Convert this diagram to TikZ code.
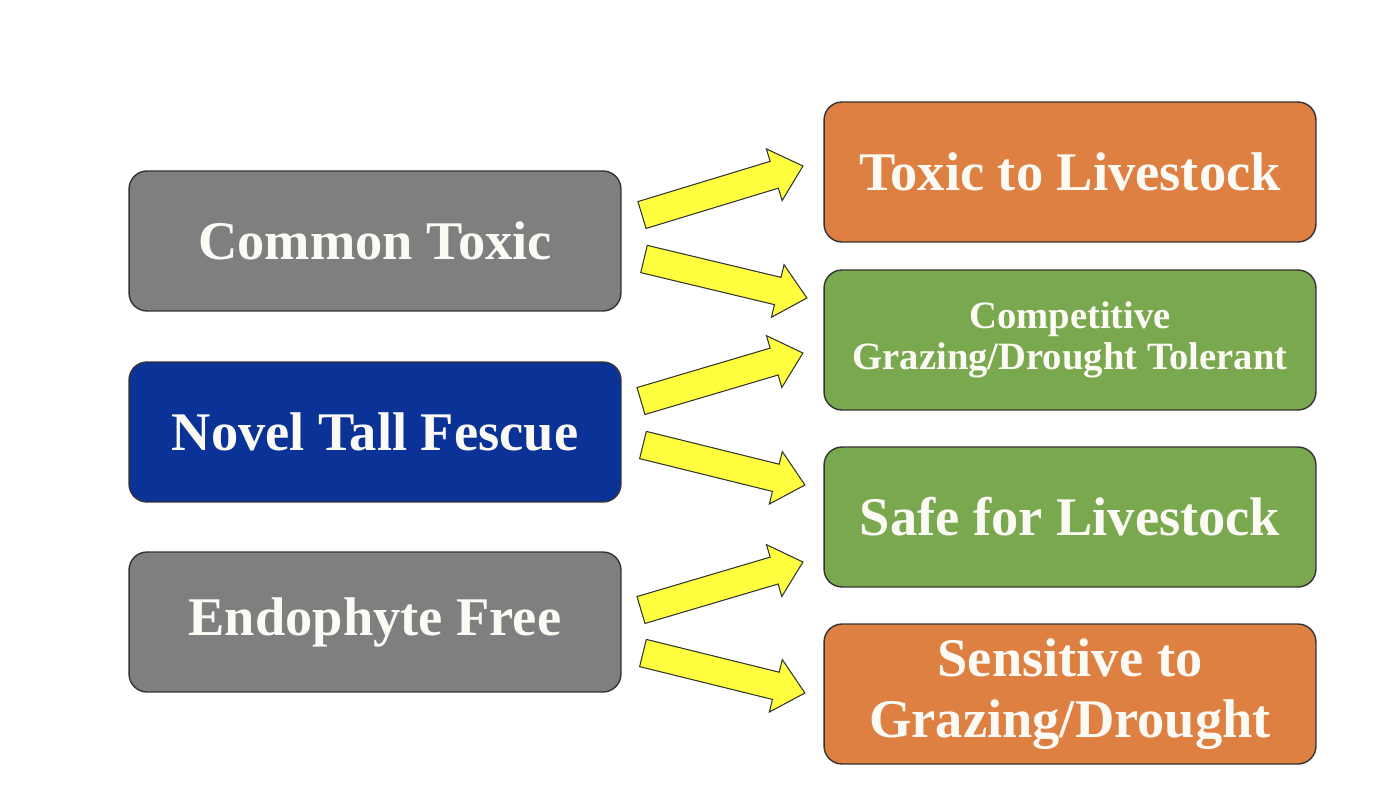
\documentclass[tikz,border=0pt]{standalone}
\usepackage{fontspec}
\setmainfont{Liberation Serif}
\usetikzlibrary{calc,shapes.arrows}

\definecolor{boxgray}{HTML}{7F7F7F}
\definecolor{boxblue}{HTML}{0B3296}
\definecolor{boxorange}{HTML}{DF8043}
\definecolor{boxgreen}{HTML}{79A84F}
\definecolor{arrowyellow}{HTML}{FFFF40}
\definecolor{textcream}{HTML}{FCFAF4}

\tikzset{
  box/.style={draw=black!80, line width=0.8pt, rounded corners=0.36cm,
    minimum width=9.84cm, minimum height=2.8cm, text=textcream, align=center,
    font=\bfseries\fontsize{31}{35}\selectfont},
  smalltext/.style={font=\bfseries\fontsize{22}{23}\selectfont},
  blockarrow/.style={single arrow, draw=black!80, fill=arrowyellow, line width=0.6pt,
    inner xsep=0pt, inner ysep=0.27cm, outer sep=0pt, single arrow head extend=0.26cm,
    single arrow tip angle=84}
}

% fat yellow arrow between two named points
\newcommand{\fatarrow}[2]{%
  \path let \p1=(#1), \p2=(#2),
    \n1={atan2(\y2-\y1,\x2-\x1)}, \n2={veclen(\x2-\x1,\y2-\y1)} in
    node[blockarrow, minimum height=\n2, rotate=\n1, anchor=tail] at (#1) {};}

\begin{document}
\begin{tikzpicture}[x=0.02cm, y=-0.02cm]
\useasboundingbox (0,0) rectangle (1374,796);

% Left column
\node[box, fill=boxgray] (common) at (375,241) {Common Toxic};
\node[box, fill=boxblue] (novel) at (375,432) {Novel Tall Fescue};
\node[box, fill=boxgray] (endo) at (375,622) {Endophyte Free};

% Right column
\node[box, fill=boxorange] (toxic) at (1070,172) {Toxic to Livestock};
\node[box, fill=boxgreen, smalltext] (compet) at (1070,340) {Competitive\\Grazing/Drought Tolerant};
\node[box, fill=boxgreen] (safe) at (1070,517) {Safe for Livestock};
\node[box, fill=boxorange] (sensit) at (1070,694) {Sensitive to\\Grazing/Drought};

% Arrow ends
\coordinate (common-up-a) at (642,215);
\coordinate (common-up-b) at (803,166);
\coordinate (common-dn-a) at (644,259);
\coordinate (common-dn-b) at (807,298);
\coordinate (novel-up-a) at (641,401);
\coordinate (novel-up-b) at (803,353);
\coordinate (novel-dn-a) at (643,445);
\coordinate (novel-dn-b) at (805,485);
\coordinate (endo-up-a) at (641,610);
\coordinate (endo-up-b) at (803,562);
\coordinate (endo-dn-a) at (643,653);
\coordinate (endo-dn-b) at (805,693);

% Arrows
\fatarrow{common-up-a}{common-up-b}
\fatarrow{common-dn-a}{common-dn-b}
\fatarrow{novel-up-a}{novel-up-b}
\fatarrow{novel-dn-a}{novel-dn-b}
\fatarrow{endo-up-a}{endo-up-b}
\fatarrow{endo-dn-a}{endo-dn-b}
\end{tikzpicture}
\end{document}
